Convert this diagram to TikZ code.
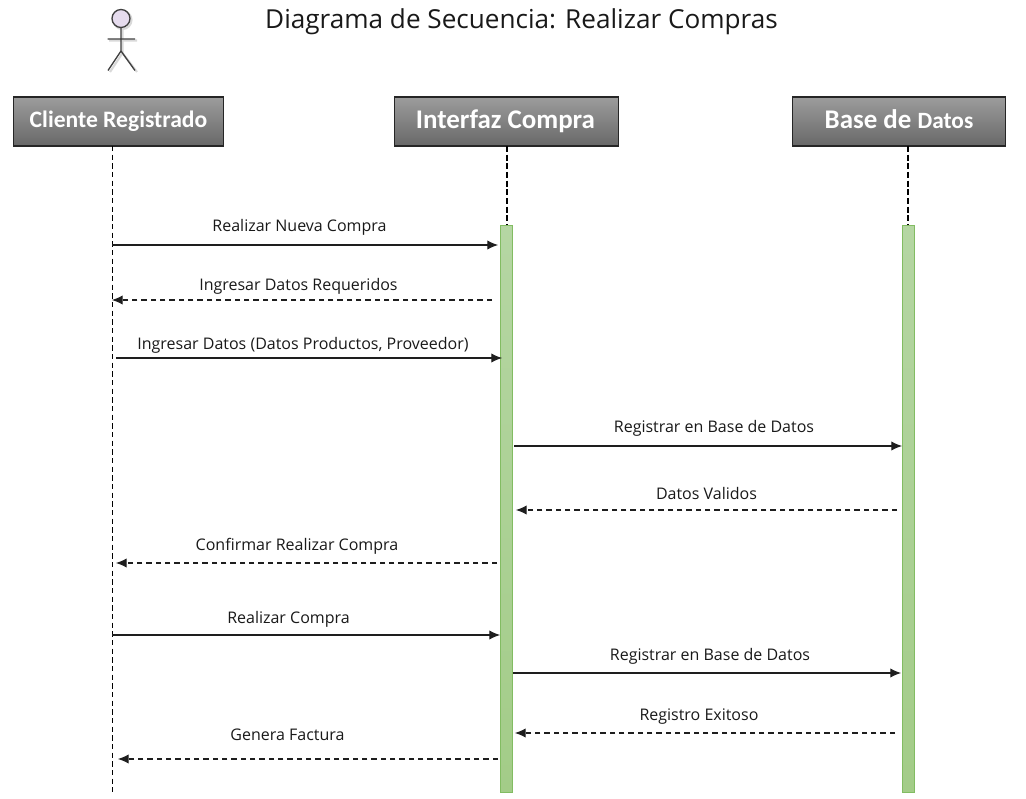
\documentclass[tikz,border=0pt]{standalone}
\usepackage{fontspec}
\setmainfont{Open Sans}
\newfontfamily\headfont{Carlito}
\usetikzlibrary{arrows.meta}
\definecolor{bartop}{HTML}{B5D6A3}
\definecolor{barbot}{HTML}{A3CC88}
\definecolor{barline}{HTML}{82BC62}
\definecolor{headtop}{HTML}{9C9C9C}
\definecolor{headbot}{HTML}{686868}
\definecolor{actorhead}{HTML}{E6DCEE}
\definecolor{inkline}{HTML}{1E1E1E}
\tikzset{
  x=0.75pt,y=-0.75pt,
  headbox/.style={draw=black!85,line width=1pt,top color=headtop,bottom color=headbot,minimum height=36.75pt,inner sep=0pt,text=white,font=\headfont\bfseries},
  actbar/.style={draw=barline,line width=0.9pt,top color=bartop,bottom color=barbot,minimum width=9.5pt,minimum height=425.25pt,inner sep=0pt},
  lifethin/.style={draw=black,line width=0.7pt,dash pattern=on 4pt off 2.5pt},
  lifethick/.style={draw=black,line width=2pt,dash pattern=on 4.5pt off 2pt},
  msgsolid/.style={draw=inkline,line width=0.8pt,-{Latex[length=8pt,width=7pt]}},
  msgdash/.style={draw=inkline,line width=0.8pt,dash pattern=on 4pt off 3pt,-{Latex[length=8pt,width=7pt]}},
  msglabel/.style={font=\fontsize{12pt}{14pt}\selectfont,text=black!90,inner sep=0pt},
  actorline/.style={draw=black!75,line width=1pt},
  actorshade/.style={draw=black!15,line width=1.6pt},
}
\begin{document}
\begin{tikzpicture}
\useasboundingbox (0,0) rectangle (1026,799);
% title
\node[font=\fontsize{19.6pt}{23pt}\selectfont,text=black!90,inner sep=0pt] (title) at (521.5,22) {Diagrama de Secuencia: Realizar Compras};
% actor
\draw[actorshade] (122.5,29) -- (122.5,53) (109,40.5) -- (137,40.5) (122.5,53) -- (110,72) (122.5,53) -- (137,72);
\draw[actorshade] (122.5,20) circle[radius=9];
\draw[actorline] (121,27) -- (121,51) (107.5,39) -- (135,39) (121,51) -- (108,70.5) (121,51) -- (135,70.5);
\draw[actorline,fill=actorhead] (121,18.5) circle[radius=9];
% headers
\node[headbox,minimum width=157.5pt,font=\headfont\bfseries\fontsize{17.7pt}{20pt}\selectfont] (c1) at (118.5,121.5) {Cliente Registrado};
\node[headbox,minimum width=168pt,font=\headfont\bfseries\fontsize{20.2pt}{24pt}\selectfont] (c2) at (506.5,121.5) {\kern-1.5pt Interfaz Compra};
\node[headbox,minimum width=160pt,text height=13pt,text depth=2.5pt,font=\headfont\bfseries\fontsize{20.2pt}{24pt}\selectfont] (c3) at (899,121.5) {Base de {\fontsize{17.5pt}{20pt}\selectfont Datos}};
% activation bars
\node[actbar] (b2) at (506.5,509) {};
\node[actbar] (b3) at (908.5,509) {};
% lifelines
\coordinate (end1) at (112,792);
\coordinate (top1) at (112,146);
\coordinate (top2) at (507,146);
\coordinate (top3) at (908,146);
\draw[lifethin] (top1) -- (end1);
\draw[lifethick] (top2) -- (b2.north -| top2);
\draw[lifethick] (top3) -- (b3.north -| top3);
% message ends
\coordinate (m1a) at (112,245);  \coordinate (m1b) at (498,245);
\coordinate (m2a) at (492,300);  \coordinate (m2b) at (112,300);
\coordinate (m3a) at (116,358);  \coordinate (m3b) at (502,358);
\coordinate (m4a) at (514,446);  \coordinate (m4b) at (902,446);
\coordinate (m5a) at (897,510);  \coordinate (m5b) at (516,510);
\coordinate (m6a) at (497,563);  \coordinate (m6b) at (116,563);
\coordinate (m7a) at (112,635);  \coordinate (m7b) at (500,635);
\coordinate (m8a) at (513,673);  \coordinate (m8b) at (901,673);
\coordinate (m9a) at (895,733);  \coordinate (m9b) at (515,733);
\coordinate (m10a) at (498,759); \coordinate (m10b) at (118,759);
\draw[msgsolid] (m1a) -- (m1b);
\draw[msgdash] (m2a) -- (m2b);
\draw[msgsolid] (m3a) -- (m3b);
\draw[msgsolid] (m4a) -- (m4b);
\draw[msgdash] (m5a) -- (m5b);
\draw[msgdash] (m6a) -- (m6b);
\draw[msgsolid] (m7a) -- (m7b);
\draw[msgsolid] (m8a) -- (m8b);
\draw[msgdash] (m9a) -- (m9b);
\draw[msgdash] (m10a) -- (m10b);
% labels
\node[msglabel] (l1) at (299.5,227) {Realizar Nueva Compra};
\node[msglabel] (l2) at (298.5,286) {Ingresar Datos Requeridos};
\node[msglabel] (l3) at (303,345) {Ingresar Datos (Datos Productos, Proveedor)};
\node[msglabel] (l4) at (714,428) {Registrar en Base de Datos};
\node[msglabel] (l5) at (706.5,493.5) {Datos Validos};
\node[msglabel] (l6) at (297,546) {Confirmar Realizar Compra};
\node[msglabel] (l7) at (288.5,619) {Realizar Compra};
\node[msglabel] (l8) at (710,656) {Registrar en Base de Datos};
\node[msglabel] (l9) at (699,717) {Registro Exitoso};
\node[msglabel] (l10) at (287.5,735) {Genera Factura};
\end{tikzpicture}
\end{document}
